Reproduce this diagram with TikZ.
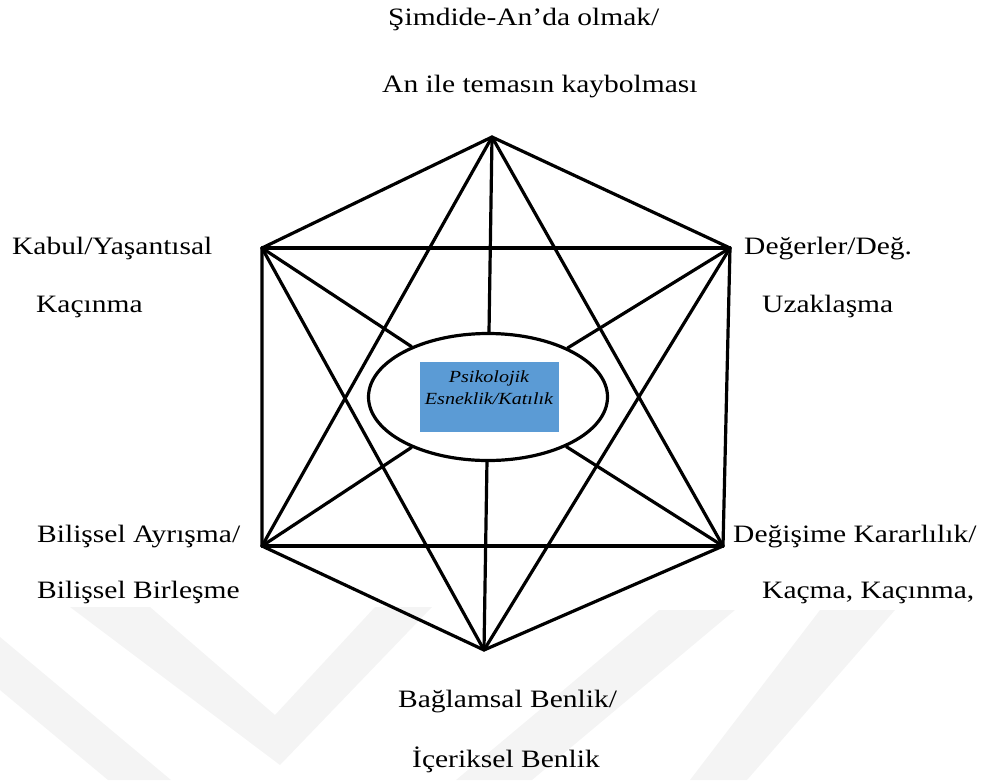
\documentclass[tikz,border=0pt]{standalone}
\usepackage{fontspec}
\setmainfont{Liberation Serif}[FakeStretch=1.18]
\usetikzlibrary{shapes.geometric}
\definecolor{boxblue}{HTML}{5B9BD5}
\definecolor{wmgray}{HTML}{F4F4F4}
\begin{document}
\begin{tikzpicture}[x=1pt,y=-1pt,
  edge/.style={line width=3.2pt, line cap=round, line join=round},
  lbl/.style={anchor=base west, inner sep=0pt, font=\fontsize{25}{30}\selectfont},
  corelbl/.style={anchor=base, inner sep=0pt, font=\fontsize{17}{20}\selectfont\itshape},
  wm/.style={fill=wmgray, draw=none}]
\useasboundingbox (0,0) rectangle (988,780);
% faint watermark bands
\fill[wm] (70,607) -- (150,607) -- (275,715) -- (375,607) -- (432,607) -- (280,765) -- cycle;
\fill[wm] (0,637) -- (171,780) -- (108,780) -- (0,690) -- cycle;
\fill[wm] (659,610) -- (735,610) -- (532,780) -- (456,780) -- cycle;
\fill[wm] (820,610) -- (895,610) -- (747,780) -- (690,780) -- cycle;
% vertices
\coordinate (T) at (492,137);
\coordinate (LU) at (262,248);
\coordinate (RU) at (730,248);
\coordinate (LL) at (262,546);
\coordinate (RL) at (723,546);
\coordinate (B) at (484,650);
% central ellipse
\node[ellipse, draw, fill=white, line width=3.2pt, minimum width=239pt, minimum height=127pt, inner sep=0pt] (ell) at (488,397) {};
\node[fill=boxblue, minimum width=139pt, minimum height=70pt, inner sep=0pt] (core) at (489.5,397) {};
\node[corelbl] (c1) at (489,382) {Psikolojik};
\node[corelbl] (c2) at (489,404) {Esneklik/Katılık};
% hexagon
\draw[edge] (T) -- (RU) -- (RL) -- (B) -- (LL) -- (LU) -- cycle;
\draw[edge] (LU) -- (RU);
\draw[edge] (LL) -- (RL);
% star
\draw[edge] (T) -- (LL);
\draw[edge] (T) -- (RL);
\draw[edge] (B) -- (LU);
\draw[edge] (B) -- (RU);
% spokes
\foreach \v in {T,LU,RU,LL,RL,B} \draw[edge] (\v) -- (ell);
% labels
\node[lbl] (t1) at (388,25) {Şimdide-An’da olmak/};
\node[lbl] (t2) at (382,92) {An ile temasın kaybolması};
\node[lbl] (lu1) at (12,254) {Kabul/Yaşantısal};
\node[lbl] (lu2) at (36,312) {Kaçınma};
\node[lbl] (ru1) at (744,254) {Değerler/Değ.};
\node[lbl] (ru2) at (762,312) {Uzaklaşma};
\node[lbl] (ll1) at (37,542) {Bilişsel Ayrışma/};
\node[lbl] (ll2) at (37,598) {Bilişsel Birleşme};
\node[lbl] (rl1) at (733,542) {Değişime Kararlılık/};
\node[lbl] (rl2) at (762,598) {Kaçma, Kaçınma,};
\node[lbl] (b1) at (398,707) {Bağlamsal Benlik/};
\node[lbl] (b2) at (412,767) {İçeriksel Benlik};
\end{tikzpicture}
\end{document}
